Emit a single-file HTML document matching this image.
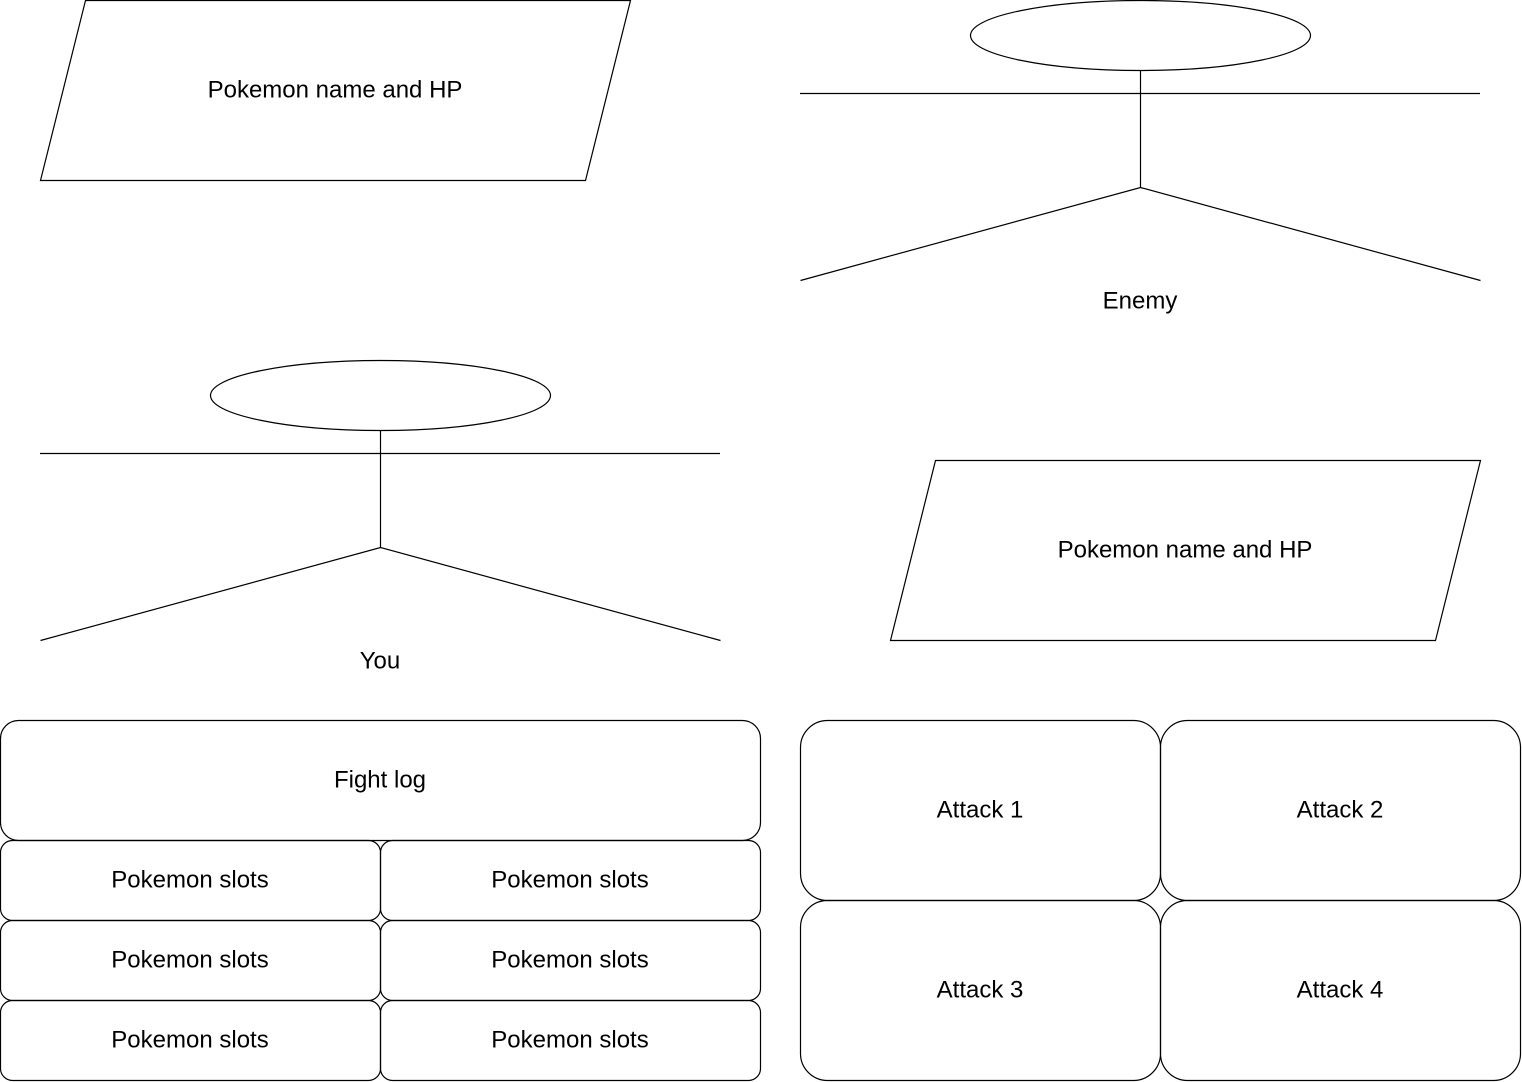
<!DOCTYPE html>
<html><head><meta charset="utf-8"><style>
html,body{margin:0;padding:0;background:#fff;}
svg{display:block;}
text{font-family:"Liberation Sans",Arial,sans-serif;font-size:24px;fill:#000;text-anchor:middle;dominant-baseline:central;}
</style></head><body>
<svg width="1522" height="1082" viewBox="0 0 1522 1082" xmlns="http://www.w3.org/2000/svg">
<g fill="none" stroke="#000" stroke-width="1.2">
<polygon points="85.5,0.5 630.5,0.5 585.5,180.5 40.5,180.5"/>
<ellipse cx="1140.5" cy="35.5" rx="170" ry="35"/>
<line x1="800" y1="93.5" x2="1480" y2="93.5"/>
<line x1="1140.5" y1="70.5" x2="1140.5" y2="187.5"/>
<polyline points="800.5,280.5 1140.5,187.5 1480.5,280.5"/>
<ellipse cx="380.5" cy="395.5" rx="170" ry="35"/>
<line x1="40" y1="453.5" x2="720" y2="453.5"/>
<line x1="380.5" y1="430.5" x2="380.5" y2="547.5"/>
<polyline points="40.5,640.5 380.5,547.5 720.5,640.5"/>
<polygon points="935.5,460.5 1480.5,460.5 1435.5,640.5 890.5,640.5"/>
<rect x="0.5" y="720.5" width="760" height="120" rx="18"/>
<rect x="0.5" y="840.5" width="380" height="80" rx="12"/>
<rect x="380.5" y="840.5" width="380" height="80" rx="12"/>
<rect x="0.5" y="920.5" width="380" height="80" rx="12"/>
<rect x="380.5" y="920.5" width="380" height="80" rx="12"/>
<rect x="0.5" y="1000.5" width="380" height="80" rx="12"/>
<rect x="380.5" y="1000.5" width="380" height="80" rx="12"/>
<rect x="800.5" y="720.5" width="360" height="180" rx="27"/>
<rect x="1160.5" y="720.5" width="360" height="180" rx="27"/>
<rect x="800.5" y="900.5" width="360" height="180" rx="27"/>
<rect x="1160.5" y="900.5" width="360" height="180" rx="27"/>
</g>
<text x="335" y="90">Pokemon name and HP</text>
<text x="1140" y="301">Enemy</text>
<text x="380" y="661">You</text>
<text x="1185" y="550">Pokemon name and HP</text>
<text x="380" y="780">Fight log</text>
<text x="190" y="880">Pokemon slots</text>
<text x="570" y="880">Pokemon slots</text>
<text x="190" y="960">Pokemon slots</text>
<text x="570" y="960">Pokemon slots</text>
<text x="190" y="1040">Pokemon slots</text>
<text x="570" y="1040">Pokemon slots</text>
<text x="980" y="810">Attack 1</text>
<text x="1340" y="810">Attack 2</text>
<text x="980" y="990">Attack 3</text>
<text x="1340" y="990">Attack 4</text>
</svg>
</body></html>
